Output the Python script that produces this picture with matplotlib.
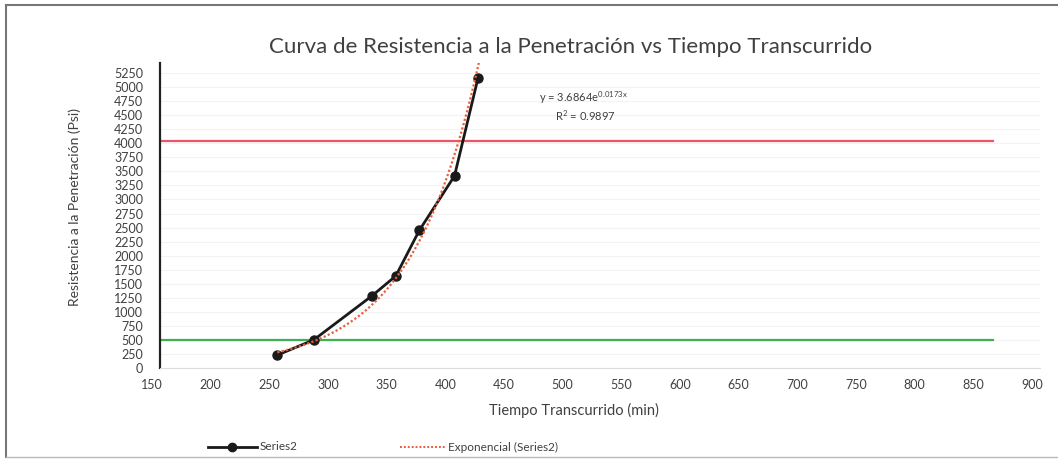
import numpy as np
import matplotlib
matplotlib.use("Agg")
import matplotlib.pyplot as plt
import matplotlib.transforms as mtrans
from matplotlib.lines import Line2D

plt.rcParams['font.family'] = ['Lato', 'DejaVu Sans']
plt.rcParams['mathtext.fontset'] = 'custom'
plt.rcParams['mathtext.rm'] = 'Lato'

# Data
tiempo = [250, 281, 331, 351, 371, 401, 421]
resistencia = [230, 500, 1290, 1640, 2450, 3420, 5160]
fit_a = 3.6864
fit_b = 0.0173
r2 = 0.9897
limite_inicial = 500
limite_final = 4040
limite_xmax = 860
x_ticks = list(range(150, 901, 50))
y_ticks = list(range(0, 5251, 250))

W, H = 1058, 459
fig = plt.figure(figsize=(W / 100, H / 100), dpi=100)
ax = fig.add_axes([160 / W, 1 - 368 / H, 880 / W, 305 / H])

# horizontal limits
ax.plot([150, limite_xmax], [limite_final, limite_final], color='#ee5566', lw=1.6, zorder=2)
ax.plot([150, limite_xmax], [limite_inicial, limite_inicial], color='#3fae55', lw=1.6, zorder=2)

# data series
ax.plot(tiempo, resistencia, color='#1a1a1a', lw=2.0, marker='o', ms=6.5, zorder=4)

# exponential trendline
xt = np.linspace(min(tiempo), max(tiempo) + 1, 200)
ax.plot(xt, fit_a * np.exp(fit_b * xt), color='#e8603c', lw=1.6, ls=(0, (1, 1)), zorder=5)

ax.set_xlim(150, 900)
ax.set_ylim(0, 5430)
ax.set_xticks(x_ticks)
ax.set_yticks(y_ticks)
ax.tick_params(axis='both', length=0, labelsize=9, colors='#404040')
ax.tick_params(axis='y', pad=12)
ax.tick_params(axis='x', pad=8)
shift = mtrans.ScaledTranslation(-8 / 100, 0, fig.dpi_scale_trans)
for lab in ax.get_xticklabels():
    lab.set_transform(lab.get_transform() + shift)
for s in ['top', 'right']:
    ax.spines[s].set_visible(False)
ax.spines['left'].set_color('#222222')
ax.spines['left'].set_linewidth(1.6)
ax.spines['bottom'].set_color('#dddddd')
ax.yaxis.grid(True, color='#f3f3f3', lw=0.8)
ax.set_axisbelow(True)

ax.set_xlabel('Tiempo Transcurrido (min)', fontsize=10.5, color='#404040')
ax.xaxis.set_label_coords((574 - 160) / 880, (368 - 410) / 305, transform=ax.transAxes)
ax.xaxis.label.set_va('center')
ax.set_ylabel('Resistencia a la Penetración (Psi)', fontsize=10, color='#404040')
ax.yaxis.set_label_coords((75 - 160) / 880, (368 - 207) / 305, transform=ax.transAxes)
ax.yaxis.label.set_va('center')

fig.text(571 / W, 1 - 47 / H, 'Curva de Resistencia a la Penetración vs Tiempo Transcurrido',
         ha='center', va='center', fontsize=16, color='#404040')

fig.text(583 / W, 1 - 98 / H, r'y = 3.6864e$^{\mathrm{0.0173x}}$',
         ha='center', va='center', fontsize=8, color='#404040')
fig.text(585 / W, 1 - 116 / H, r'R$^{\mathrm{2}}$ = 0.9897',
         ha='center', va='center', fontsize=8, color='#404040')

# legend
ly = 1 - 447 / H
fig.lines.append(Line2D([208 / W, 257 / W], [ly, ly], transform=fig.transFigure,
                        color='#1a1a1a', lw=2))
fig.lines.append(Line2D([232 / W], [ly], transform=fig.transFigure,
                        color='#1a1a1a', marker='o', ms=6, ls='none'))
fig.text(260 / W, ly, 'Series2', fontsize=8.5, va='center', ha='left', color='#404040')
fig.lines.append(Line2D([400 / W, 445 / W], [ly, ly], transform=fig.transFigure,
                        color='#e8603c', lw=1.4, ls=(0, (1, 1))))
fig.text(448 / W, ly, 'Exponencial (Series2)', fontsize=8.5, va='center', ha='left', color='#404040')

# outer border (left, top, bottom)
bx, bt, bb = 6 / W, 1 - 5 / H, 1 - 457 / H
fig.lines.append(Line2D([bx, bx], [bb, bt], transform=fig.transFigure, color='#777777', lw=1.5))
fig.lines.append(Line2D([bx, 1.0], [bt, bt], transform=fig.transFigure, color='#777777', lw=1.5))
fig.lines.append(Line2D([bx, 1.0], [bb, bb], transform=fig.transFigure, color='#bbbbbb', lw=1.0))

fig.savefig('out.png', dpi=100)
